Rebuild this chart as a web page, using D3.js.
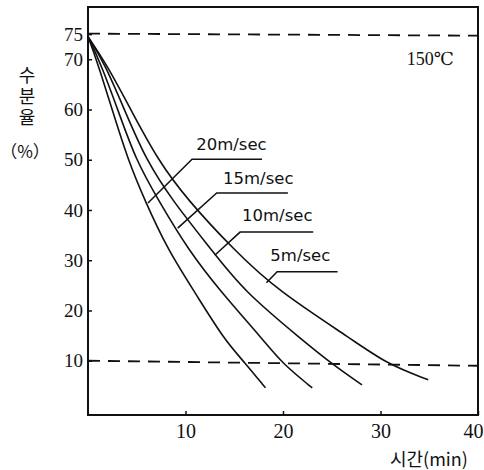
<!DOCTYPE html>
<html>
<head>
<meta charset="utf-8">
<script src="https://cdn.jsdelivr.net/npm/d3@7/dist/d3.min.js"></script>
<style>
  body { margin: 0; background: #fff; }
  svg { display: block; }
</style>
</head>
<body>
<div id="chart"></div>
<script>
// drying curves, moisture (%) vs time (min), one per air speed
var speeds = ["20m/sec", "15m/sec", "10m/sec", "5m/sec"];
var s20 = [[0, 74.5], [1.0, 69.2], [2.6, 59.2], [4.1, 50], [5.8, 42], [8.2, 32], [11.0, 23.5], [14, 14.1], [16.1, 9.6], [18.2, 4.6]];
var s15 = [[0, 74.5], [1.3, 69.2], [3.2, 59.2], [4.9, 50], [7.2, 42], [10.3, 32], [13.5, 24], [18, 14.1], [19.9, 9.5], [23, 4.6]];
var s10 = [[0, 74.5], [1.7, 69.2], [3.9, 59.2], [5.95, 50], [8.6, 42], [12.7, 32], [15.9, 24], [22, 14.1], [25, 9.4], [28.1, 5.2]];
var s5 = [[0, 74.5], [1.85, 69.2], [4.6, 59.2], [7.15, 50], [10.2, 42], [15.0, 32], [19.4, 24], [27.2, 14.1], [30.7, 9.3], [34.9, 6.2]];
var series = [s20, s15, s10, s5];

// reference levels (dashed)
var topLevel = [[0, 75.1], [40, 74.7]];
var lowLevel = [[0, 10], [40, 9]];

var xTicks = [10, 20, 30, 40];
var yTicks = [10, 20, 30, 40, 50, 60, 70, 75];
var tempLabel = "150℃";
var yTitle = "수분율";

/*********************** Plot Below *********************/
var W = 484, H = 470;
var margin = { top: 7, right: 6, bottom: 55, left: 88 };
var width = W - margin.left - margin.right,
    height = H - margin.top - margin.bottom;

var serif = "'Liberation Serif', 'DejaVu Serif', serif";

var x = d3.scaleLinear().domain([0, 40]).range([0, width]),
    y = d3.scaleLinear().domain([-0.8, 80.4]).range([height, 0]);

var svg = d3.select("#chart").append("svg")
    .attr("width", W)
    .attr("height", H);

var g = svg.append("g")
    .attr("transform", "translate(" + margin.left + "," + margin.top + ")");

// frame
g.append("rect")
    .attr("width", width)
    .attr("height", height)
    .style("fill", "none")
    .style("stroke", "#111")
    .style("stroke-width", "2px");

var xAxis = d3.axisBottom(x).tickValues(xTicks).tickSize(-4).tickPadding(9),
    yAxis = d3.axisLeft(y).tickValues(yTicks).tickSize(-4).tickPadding(5);

var gx = g.append("g")
    .attr("class", "x axis")
    .attr("transform", "translate(0," + height + ")")
    .call(xAxis);
gx.select(".domain").remove();

var gy = g.append("g")
    .attr("class", "y axis")
    .call(yAxis);
gy.select(".domain").remove();

g.selectAll(".tick line").style("stroke", "#111").style("stroke-width", "1.5px");
g.selectAll(".tick text")
    .style("font-family", serif)
    .style("font-size", "19px")
    .style("fill", "#111");
gx.selectAll(".tick text").style("font-size", "20px");
// last x label is pushed in so it stays inside the page
gx.selectAll(".tick text").filter(function (d) { return d === 40; })
    .attr("text-anchor", "end")
    .attr("dx", 5);

var plotLine = d3.line()
    .x(function (d) { return x(d[0]); })
    .y(function (d) { return y(d[1]); });

// dashed levels
[topLevel, lowLevel].forEach(function (lv) {
    g.append("path")
        .datum(lv)
        .attr("d", plotLine)
        .style("fill", "none")
        .style("stroke", "#111")
        .style("stroke-width", "1.8px")
        .style("stroke-dasharray", "12,8");
});

// curves
var smooth = d3.line()
    .curve(d3.curveBasis)
    .x(function (d) { return x(d[0]); })
    .y(function (d) { return y(d[1]); });

g.selectAll(".curve")
    .data(series)
    .enter().append("path")
    .attr("class", "curve")
    .attr("d", smooth)
    .style("fill", "none")
    .style("stroke", "#111")
    .style("stroke-width", "1.6px");

/****************** Labels Below **************************/
// leader: diagonal from curve point (ex,ev) up to (u0,uv), underline to (u1,uv), text at (tx,tv)
var leaders = [
    { u0: 10.67, u1: 17.85, uv: 50.1, ex: 6.15, ev: 41.4, tx: 11.1, tv: 51.9 },
    { u0: 13.2, u1: 20.5, uv: 43.4, ex: 9.2, ev: 36.4, tx: 13.85, tv: 45.2 },
    { u0: 15.6, u1: 23.1, uv: 35.6, ex: 13.0, ev: 31.0, tx: 15.8, tv: 37.8 },
    { u0: 19.4, u1: 25.6, uv: 27.7, ex: 18.3, ev: 25.5, tx: 18.7, tv: 29.9 }
];

leaders.forEach(function (l, i) {
    g.append("path")
        .datum([[l.ex, l.ev], [l.u0, l.uv], [l.u1, l.uv]])
        .attr("d", plotLine)
        .style("fill", "none")
        .style("stroke", "#111")
        .style("stroke-width", "1.5px");
    g.append("text")
        .attr("x", x(l.tx))
        .attr("y", y(l.tv))
        .style("font-family", "'DejaVu Sans', sans-serif")
        .style("font-size", "16.5px")
        .style("fill", "#111")
        .text(speeds[i]);
});

g.append("text")
    .attr("x", x(32.7))
    .attr("y", y(68.9))
    .style("font-family", serif)
    .style("font-size", "18px")
    .style("fill", "#111")
    .text(tempLabel);

// y title, written top to bottom
svg.append("text")
    .attr("x", 27)
    .attr("y", 66)
    .style("writing-mode", "vertical-rl")
    .style("letter-spacing", "3px")
    .style("font-family", "'Noto Sans CJK KR', sans-serif")
    .style("font-size", "18px")
    .style("fill", "#111")
    .text(yTitle);

svg.append("text")
    .attr("x", 25)
    .attr("y", 158)
    .attr("text-anchor", "middle")
    .style("font-family", "'Noto Sans CJK KR', sans-serif")
    .style("font-size", "17px")
    .style("fill", "#111")
    .text("（%）");

svg.append("text")
    .attr("x", 390)
    .attr("y", 466)
    .style("font-family", "'Noto Sans CJK KR', 'Liberation Serif', serif")
    .style("font-size", "18px")
    .style("fill", "#111")
    .text("시간(min)");
</script>
</body>
</html>
